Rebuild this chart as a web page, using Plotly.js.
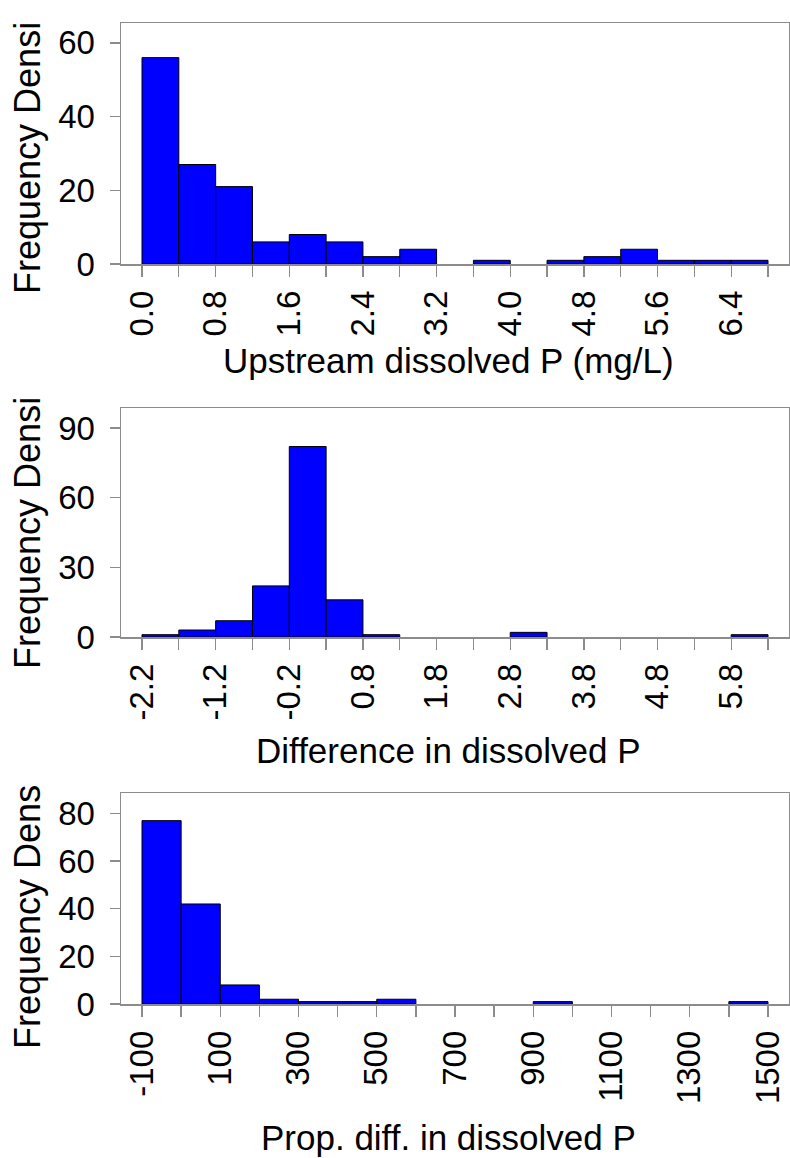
<!DOCTYPE html>
<html>
<head>
<meta charset="utf-8">
<script src="https://cdn.plot.ly/plotly-3.0.1.min.js"></script>
<style>
  html, body { margin: 0; padding: 0; background: #ffffff; }
  #wrap { position: relative; width: 790px; height: 1158px; overflow: hidden; }
  .panel { position: absolute; left: 0; width: 790px; overflow: hidden; }
</style>
</head>
<body>
<div id="wrap">
  <div id="p1" class="panel" style="top:0px;height:388px;"></div>
  <div id="p2" class="panel" style="top:388px;height:391px;"></div>
  <div id="p3" class="panel" style="top:779px;height:379px;"></div>
</div>
<script>
// ---------- data ----------
const upstreamEdges = [0.0, 0.4, 0.8, 1.2, 1.6, 2.0, 2.4, 2.8, 3.2, 3.6, 4.0, 4.4, 4.8, 5.2, 5.6, 6.0, 6.4, 6.8];
const upstreamDensity = [56, 27, 21, 6, 8, 6, 2, 4, 0, 1, 0, 1, 2, 4, 1, 1, 1];
const upstreamTickLabels = ["0.0", "0.8", "1.6", "2.4", "3.2", "4.0", "4.8", "5.6", "6.4"];
const upstreamYTicks = [0, 20, 40, 60];

const diffEdges = [-2.2, -1.7, -1.2, -0.7, -0.2, 0.3, 0.8, 1.3, 1.8, 2.3, 2.8, 3.3, 3.8, 4.3, 4.8, 5.3, 5.8, 6.3];
const diffDensity = [1, 3, 7, 22, 82, 16, 1, 0, 0, 0, 2, 0, 0, 0, 0, 0, 1];
const diffTickLabels = ["-2.2", "-1.2", "-0.2", "0.8", "1.8", "2.8", "3.8", "4.8", "5.8"];
const diffYTicks = [0, 30, 60, 90];

const propEdges = [-100, 0, 100, 200, 300, 400, 500, 600, 700, 800, 900, 1000, 1100, 1200, 1300, 1400, 1500];
const propDensity = [77, 42, 8, 2, 1, 1, 2, 0, 0, 0, 1, 0, 0, 0, 0, 1];
const propTickLabels = ["-100", "100", "300", "500", "700", "900", "1100", "1300", "1500"];
const propYTicks = [0, 20, 40, 60, 80];

const xTitles = ["Upstream dissolved P (mg/L)", "Difference in dissolved P", "Prop. diff. in dissolved P"];
// y titles as they appear (cut by the panel edge in the reference)
const yTitles = ["Frequency Densi", "Frequency Densi", "Frequency Dens"];

// ---------- drawing ----------
const FONT = "Liberation Sans, Arial, Helvetica, sans-serif";
const FRAME = "#8c8c8c";
const PLOT_L = 121, PLOT_R = 789, FIRST_TICK = 142, LAST_TICK = 768;

function makePanel(divId, panelTop, panelHeight, plotTop, plotBottom, edges, dens, labels, yTicks, yTop, xTitle, xTitleY, yTitle, yTitleStart) {
  const n = dens.length;
  const xs = [], ys = [], ws = [];
  for (let i = 0; i < n; i++) {
    if (dens[i] > 0) {
      xs.push((edges[i] + edges[i + 1]) / 2);
      ys.push(dens[i]);
      ws.push(edges[i + 1] - edges[i]);
    }
  }
  const x0 = edges[0], x1 = edges[edges.length - 1];
  const pxPerUnit = (LAST_TICK - FIRST_TICK) / (x1 - x0);
  const xr = [x0 - (FIRST_TICK - PLOT_L) / pxPerUnit, x1 + (PLOT_R - LAST_TICK) / pxPerUnit];
  const tickText = edges.map((e, i) => (i % 2 === 0 ? labels[i / 2] : ""));

  const t = plotTop - panelTop;
  const b = panelTop + panelHeight - plotBottom;
  const plotH = plotBottom - plotTop;
  const plotW = PLOT_R - PLOT_L;
  const toPaperY = (py) => (plotBottom - py) / plotH;
  const toPaperX = (px) => (px - PLOT_L) / plotW;

  const trace = {
    type: "bar",
    x: xs,
    y: ys,
    width: ws,
    marker: { color: "#0000ff", line: { color: "#000000", width: 1 } },
    hoverinfo: "x+y"
  };

  const layout = {
    width: 790,
    height: panelHeight,
    margin: { l: PLOT_L, r: 790 - PLOT_R, t: t, b: b, pad: 0 },
    paper_bgcolor: "#ffffff",
    plot_bgcolor: "#ffffff",
    showlegend: false,
    bargap: 0,
    font: { family: FONT, color: "#000000", size: 33 },
    xaxis: {
      range: xr,
      tickmode: "array",
      tickvals: edges,
      ticktext: tickText,
      tickangle: -90,
      ticks: "outside",
      ticklen: 11,
      tickwidth: 1.3,
      tickcolor: FRAME,
      showline: true,
      mirror: true,
      linecolor: FRAME,
      linewidth: 1.5,
      showgrid: false,
      zeroline: false,
      tickfont: { family: FONT, size: 33, color: "#000000" },
      ticklabelstandoff: 1,
      automargin: false
    },
    yaxis: {
      range: [0, yTop],
      tickmode: "array",
      tickvals: yTicks,
      ticks: "outside",
      ticklen: 10,
      tickwidth: 1.3,
      tickcolor: FRAME,
      showline: true,
      mirror: true,
      linecolor: FRAME,
      linewidth: 1.5,
      showgrid: false,
      zeroline: false,
      tickfont: { family: FONT, size: 33, color: "#000000" },
      ticklabelstandoff: 8,
      automargin: false
    },
    annotations: [
      {
        text: xTitle,
        xref: "paper", yref: "paper",
        x: toPaperX(448.5), y: toPaperY(xTitleY),
        xanchor: "center", yanchor: "middle",
        showarrow: false,
        font: { family: FONT, size: 35, color: "#000000" }
      },
      {
        text: yTitle,
        xref: "paper", yref: "paper",
        x: toPaperX(27), y: toPaperY(yTitleStart),
        xanchor: "center", yanchor: "bottom",
        textangle: -90,
        showarrow: false,
        font: { family: FONT, size: 36, color: "#000000" }
      }
    ]
  };
  Plotly.newPlot(divId, [trace], layout, { displayModeBar: false, staticPlot: true });
}

makePanel("p1", 0, 388, 23, 264, upstreamEdges, upstreamDensity, upstreamTickLabels, upstreamYTicks, 65.4, xTitles[0], 360, yTitles[0], 296);
makePanel("p2", 388, 391, 408, 637, diffEdges, diffDensity, diffTickLabels, diffYTicks, 98.6, xTitles[1], 750, yTitles[1], 671);
makePanel("p3", 779, 379, 793, 1004, propEdges, propDensity, propTickLabels, propYTicks, 88.6, xTitles[2], 1137, yTitles[2], 1051);
</script>
</body>
</html>
